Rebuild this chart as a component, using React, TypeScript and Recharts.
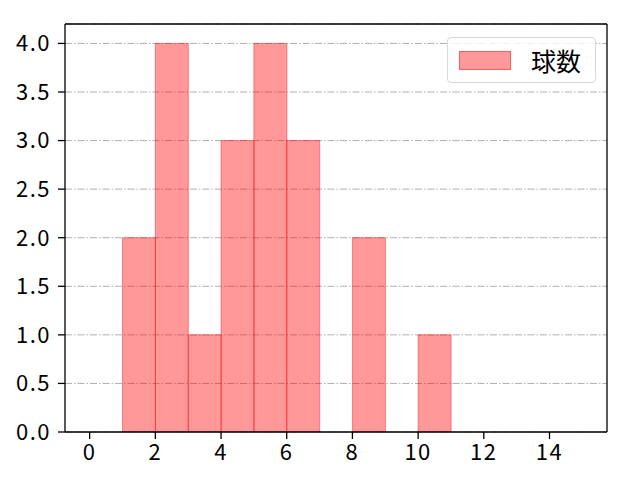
import { ComposedChart, Bar, XAxis, YAxis, CartesianGrid, ReferenceLine } from 'recharts';

// histogram bins (width 1) and counts
const binCenters = [0.5, 1.5, 2.5, 3.5, 4.5, 5.5, 6.5, 7.5, 8.5, 9.5, 10.5, 11.5, 12.5, 13.5, 14.5];
const counts = [0, 2, 4, 1, 3, 4, 3, 0, 2, 0, 1, 0, 0, 0, 0];
const xTicks = [0, 2, 4, 6, 8, 10, 12, 14];
const yTicks = [0, 0.5, 1, 1.5, 2, 2.5, 3, 3.5, 4];
const xDomain = [-0.75, 15.75];
const yDomain = [0, 4.2];
const seriesName = '球数';

const data = binCenters.map((x, i) => ({ x, count: counts[i] }));

const FONT = '"Noto Sans CJK JP", "Noto Sans", sans-serif';
const FS = 22;
const axisStyle = { stroke: '#000', strokeWidth: 1.3 };
const tickText = { fill: '#000', fontSize: FS, letterSpacing: 1.5 };

export default function App() {
  return (
    <div
      style={{
        position: 'absolute',
        left: 0,
        top: 0,
        width: 640,
        height: 480,
        background: '#fff',
        fontFamily: FONT,
      }}
    >
      <ComposedChart
        width={640}
        height={480}
        data={data}
        margin={{ top: 24, right: 33, bottom: 13, left: 5 }}
        barCategoryGap={0}
        barGap={0}
      >
        <CartesianGrid
          vertical={false}
          stroke="#b0b0b0"
          strokeDasharray="7 2 1.5 2"
        />
        <XAxis
          dataKey="x"
          type="number"
          domain={xDomain}
          ticks={xTicks}
          allowDataOverflow
          height={35}
          tickSize={7}
          tickMargin={5}
          axisLine={axisStyle}
          tickLine={axisStyle}
          tick={tickText}
        />
        <YAxis
          type="number"
          domain={yDomain}
          ticks={yTicks}
          allowDataOverflow
          width={60}
          tickSize={7}
          tickMargin={7}
          tickFormatter={(v: number) => v.toFixed(1)}
          axisLine={axisStyle}
          tickLine={axisStyle}
          tick={tickText}
        />
        <Bar
          dataKey="count"
          name={seriesName}
          fill="#ff0000"
          fillOpacity={0.4}
          stroke="#ff0000"
          strokeOpacity={0.4}
          isAnimationActive={false}
        />
        {/* top and right spines */}
        <ReferenceLine y={yDomain[1]} stroke="#000" strokeWidth={1.3} ifOverflow="visible" />
        <ReferenceLine x={xDomain[1]} stroke="#000" strokeWidth={1.3} ifOverflow="visible" />
      </ComposedChart>
      <div
        style={{
          position: 'absolute',
          left: 447,
          top: 37,
          width: 149,
          height: 46,
          boxSizing: 'border-box',
          border: '1px solid #d9d9d9',
          borderRadius: 4,
          background: 'rgba(255,255,255,0.8)',
          display: 'flex',
          alignItems: 'center',
        }}
      >
        <div
          style={{
            marginLeft: 11,
            width: 52,
            height: 19,
            boxSizing: 'border-box',
            background: 'rgba(255,0,0,0.4)',
            border: '1px solid rgba(255,0,0,0.4)',
          }}
        />
        <span style={{ marginLeft: 20, fontSize: 25, color: '#000', lineHeight: 1 }}>{seriesName}</span>
      </div>
    </div>
  );
}
